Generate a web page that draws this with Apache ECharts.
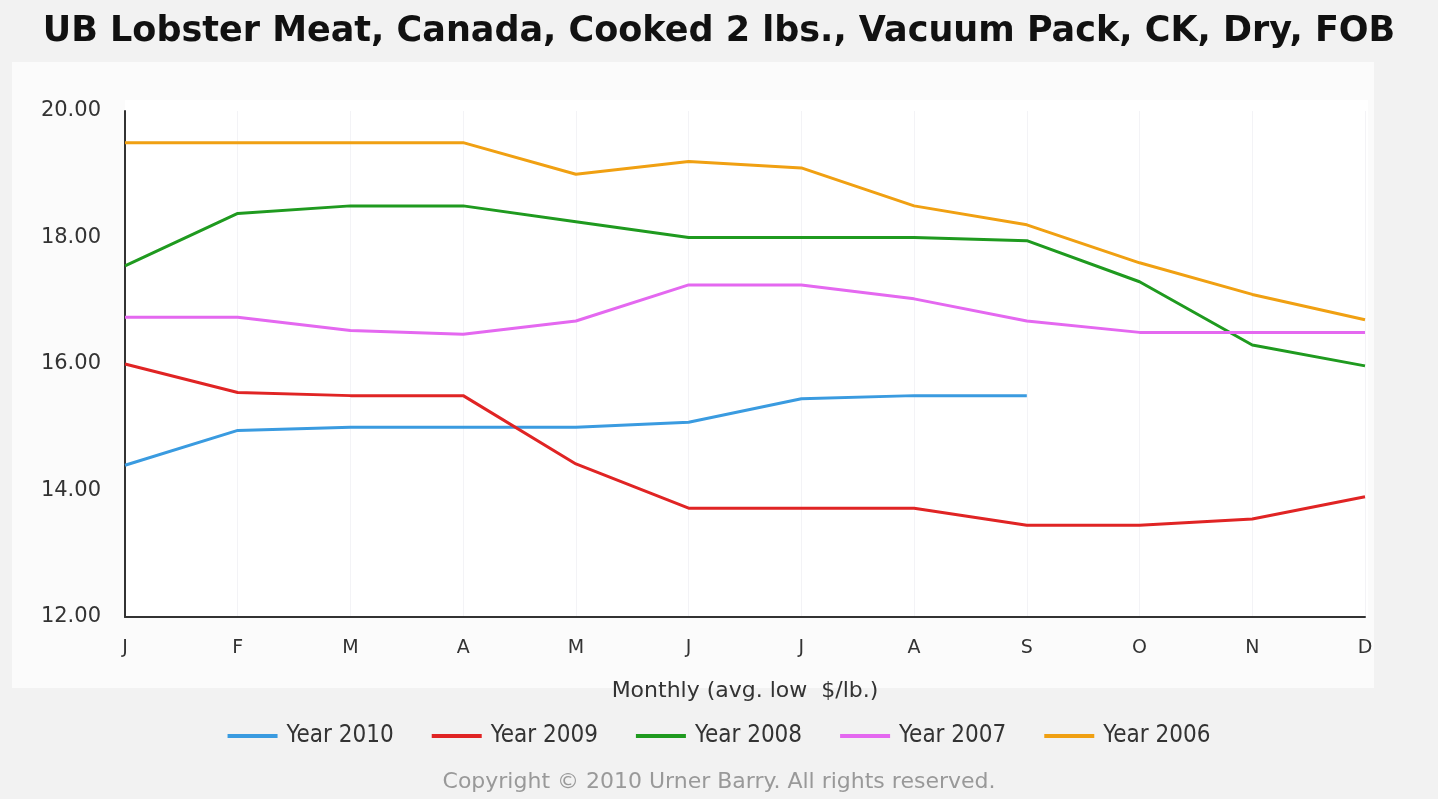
<!DOCTYPE html>
<html>
<head>
<meta charset="utf-8">
<style>
  html, body { margin: 0; padding: 0; background: #f2f2f2; }
  #chart { width: 1438px; height: 799px; }
</style>
<script src="https://cdn.jsdelivr.net/npm/echarts@6/dist/echarts.min.js"></script>
</head>
<body>
<div id="chart"></div>
<script>
// Monthly average low price, $/lb.
const months = ['J', 'F', 'M', 'A', 'M', 'J', 'J', 'A', 'S', 'O', 'N', 'D'];
const year2010 = [14.4, 14.95, 15.0, 15.0, 15.0, 15.08, 15.45, 15.5, 15.5, null, null, null];
const year2009 = [16.0, 15.55, 15.5, 15.5, 14.42, 13.72, 13.72, 13.72, 13.45, 13.45, 13.55, 13.9];
const year2008 = [17.55, 18.38, 18.5, 18.5, 18.25, 18.0, 18.0, 18.0, 17.95, 17.3, 16.3, 15.97];
const year2007 = [16.74, 16.74, 16.53, 16.47, 16.68, 17.25, 17.25, 17.03, 16.68, 16.5, 16.5, 16.5];
const year2006 = [19.5, 19.5, 19.5, 19.5, 19.0, 19.2, 19.1, 18.5, 18.2, 17.6, 17.1, 16.7];

const seriesNames = ['Year 2010', 'Year 2009', 'Year 2008', 'Year 2007', 'Year 2006'];
const seriesData = [year2010, year2009, year2008, year2007, year2006];
const seriesColors = ['#3a9be0', '#e02424', '#1f9a1f', '#e468f0', '#f0a012'];

const chart = echarts.init(document.getElementById('chart'));

chart.setOption({
  backgroundColor: '#f2f2f2',
  animation: false,
  graphic: [
    {
      type: 'rect',
      z: -10,
      shape: { x: 12, y: 62, width: 1362, height: 626 },
      style: { fill: '#fbfbfb' }
    },
    {
      type: 'rect',
      z: -9,
      shape: { x: 125, y: 100, width: 1243, height: 517 },
      style: { fill: '#ffffff' }
    },
    {
      type: 'text',
      left: 'center',
      top: 771,
      style: {
        text: 'Copyright © 2010 Urner Barry. All rights reserved.',
        fill: '#999999',
        font: '22px "DejaVu Sans", sans-serif'
      }
    }
  ],
  title: {
    text: 'UB Lobster Meat, Canada, Cooked 2 lbs., Vacuum Pack, CK, Dry, FOB',
    left: 'center',
    top: 9,
    textStyle: {
      color: '#111',
      fontSize: 35,
      fontWeight: 'bold',
      fontFamily: '"DejaVu Sans", sans-serif'
    }
  },
  legend: {
    data: seriesNames,
    bottom: 46,
    left: 'center',
    icon: 'rect',
    itemWidth: 50,
    itemHeight: 4,
    itemGap: 38,
    textStyle: {
      color: '#333',
      fontSize: 24,
      padding: [0, 0, 0, 4],
      fontFamily: '"Liberation Sans Narrow", "DejaVu Sans Condensed", sans-serif'
    }
  },
  grid: {
    left: 125,
    right: 73,
    top: 111,
    bottom: 182,
    containLabel: false
  },
  xAxis: {
    type: 'category',
    data: months,
    boundaryGap: false,
    name: 'Monthly (avg. low  $/lb.)',
    nameLocation: 'middle',
    nameGap: 63,
    nameTextStyle: {
      color: '#333',
      fontSize: 22,
      fontFamily: '"DejaVu Sans", sans-serif'
    },
    axisLine: { lineStyle: { color: '#333', width: 2 } },
    axisTick: { show: false },
    axisLabel: {
      color: '#333',
      fontSize: 19,
      margin: 22,
      fontFamily: '"DejaVu Sans", sans-serif'
    },
    splitLine: { show: true, lineStyle: { color: '#f3f3f6', width: 1 } }
  },
  yAxis: {
    type: 'value',
    min: 12,
    max: 20,
    interval: 2,
    axisLine: { show: true, lineStyle: { color: '#333', width: 2 } },
    axisTick: { show: false },
    splitLine: { show: false },
    axisLabel: {
      color: '#333',
      fontSize: 21,
      margin: 24,
      fontFamily: '"DejaVu Sans", sans-serif',
      formatter: v => v.toFixed(2)
    }
  },
  series: seriesNames.map((name, i) => ({
    name: name,
    type: 'line',
    data: seriesData[i],
    color: seriesColors[i],
    showSymbol: false,
    symbol: 'none',
    connectNulls: false,
    lineStyle: { width: 3, color: seriesColors[i] }
  }))
});
</script>
</body>
</html>
